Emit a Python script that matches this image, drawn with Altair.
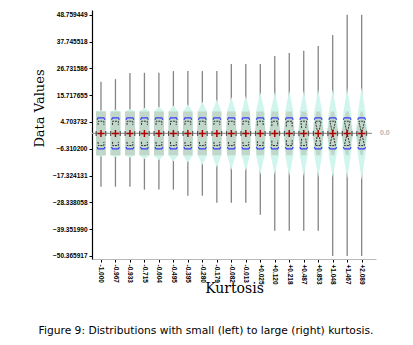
import json
import altair as alt
import pandas as pd

# ---------------- data ----------------
kurt_labels = ["-1.000", "-0.967", "-0.933", "-0.715", "-0.604", "-0.495", "-0.395",
               "-0.280", "-0.179", "-0.082", "-0.013", "+0.025", "+0.120", "+0.218",
               "+0.487", "+0.853", "+1.048", "+1.467", "+2.089"]
whisker_hi = [21.2, 22.3, 24.8, 24.9, 24.9, 25.6, 25.6, 25.6, 25.6, 28.5, 28.5, 28.5,
              31.8, 33.0, 33.9, 35.9, 40.4, 48.759449, 48.759449]
whisker_lo = [-21.9, -21.9, -21.9, -23.1, -23.1, -23.1, -25.6, -25.6, -28.5, -28.5, -28.5,
              -33.4, -40.0, -40.0, -40.0, -40.0, -50.365917, -50.365917, -50.365917]
means = [0.0] * 19
sds = [6.4] * 19
# density (violin) profile: half widths (in px of a 14.5 px slot) and tail extent
w_center = [5.0, 5.0, 5.0, 5.0, 5.0, 5.0, 5.0, 5.0, 5.0, 5.1, 5.1, 5.2, 5.3, 5.4, 5.5, 5.6, 5.7, 5.8, 5.9]
w_shoulder = [5.0, 5.0, 5.0, 5.0, 4.9, 4.8, 4.7, 4.6, 4.5, 4.3, 4.1, 4.3, 4.2, 4.1, 4.0, 3.9, 3.8, 3.7, 3.6]
w_inner = [5.0, 5.0, 5.0, 5.0, 4.9, 4.8, 4.7, 4.6, 4.5, 4.3, 4.1, 3.6, 3.2, 2.8, 2.4, 2.0, 1.6, 1.3, 1.0]
tails = [9.5, 9.7, 10.0, 10.5, 11, 11.5, 12, 13, 14, 15, 15.5, 17, 17, 17.5, 17.5, 18, 18, 18.5, 19]
# kurtosis glyph: how far the ends drop, and how much they pinch inward
k_drop = [1.5] * 11 + [1.8, 2.0, 2.2, 2.8, 3.5, 5.0, 5.0, 5.0]
k_pinch = [0.0] * 11 + [0.0, 0.0, 0.0, 0.3, 0.6, 1.0, 1.0, 1.0]

y_ticks = [48.759449, 37.745518, 26.731586, 15.717655, 4.703732, -6.310200,
           -17.324131, -28.338058, -39.351990, -50.365917]

caption = "Figure 9: Distributions with small (left) to large (right) kurtosis."

# ---------------- build tables ----------------
SLOT = 14.5
n = len(kurt_labels)
idx = list(range(n))

whisk = pd.DataFrame({"idx": idx, "lo": whisker_lo, "hi": whisker_hi, "mean": means})

outer_rows, inner_rows = [], []
for i in idx:
    a = w_shoulder[i] / SLOT
    c = w_center[i] / SLOT
    b = w_inner[i] / SLOT
    t = tails[i]
    for y, h in zip([-t, -9, 0, 9, t], [0, a, c, a, 0]):
        outer_rows.append({"idx": i, "vy": y, "xa": i - h, "xb": i + h})
    for y, h in zip([-9, 0, 9], [b, c, b]):
        inner_rows.append({"idx": i, "vy": y, "xa": i - h, "xb": i + h})
outer = pd.DataFrame(outer_rows)
inner = pd.DataFrame(inner_rows)

GW = 0.2
glyph_rows = []
blue_rows = []
for i in idx:
    for sgn in (1, -1):
        yk = means[i] + sgn * 5.0
        r = k_drop[i]
        f = k_pinch[i]
        pts = [(i - GW + f * GW, yk - sgn * r), (i - GW, yk), (i + GW, yk), (i + GW - f * GW, yk - sgn * r)]
        for o, (px, py) in enumerate(pts):
            glyph_rows.append({"gid": f"{i}_{sgn}", "ord": o, "gx": px, "gy": py})
        yb = means[i] + sgn * sds[i]
        pts = [(i - 0.27, yb - sgn * 0.8), (i - 0.2, yb), (i + 0.2, yb), (i + 0.27, yb - sgn * 0.8)]
        for o, (px, py) in enumerate(pts):
            blue_rows.append({"gid": f"{i}_{sgn}", "ord": o, "gx": px, "gy": py})
glyphs = pd.DataFrame(glyph_rows)
blues = pd.DataFrame(blue_rows)

caps = pd.DataFrame({"cx": [i + s * 0.33 for i in idx for s in (-1, 1)],
                     "cy": [means[i] for i in idx for s in (-1, 1)]})

# ---------------- scales / axes ----------------
xscale = alt.Scale(domain=[-0.62, 18.99], nice=False, zero=False)
yscale = alt.Scale(domain=[-51.6, 50.69], nice=False, zero=False)
TICKFONT = "Liberation Sans"

x_axis = alt.Axis(values=idx, labelExpr=json.dumps(kurt_labels) + "[round(datum.value)]",
                  labelAngle=90, labelFont=TICKFONT, labelFontSize=6.5, labelFontWeight="bold",
                  labelColor="black", labelPadding=2, tickSize=3, tickColor="black",
                  labelOverlap=False, labelFlush=False, labelSeparation=0, labelBound=False,
                  domainColor="#bbbbbb", domainWidth=1.2, grid=False, title="Kurtosis",
                  titleFont="DejaVu Serif", titleFontSize=14,
                  titleFontWeight="normal", titleBaseline="alphabetic", titleY=33, titleColor="black")
y_axis = alt.Axis(values=y_ticks, labelExpr="format(datum.value, '.6f')",
                  labelFont=TICKFONT, labelFontSize=6.5, labelFontWeight="bold", labelColor="black",
                  labelOverlap=False, labelFlush=False, labelSeparation=0, labelBound=False,
                  labelPadding=2, tickSize=3, tickColor="black", domainColor="black",
                  domainWidth=1.2, grid=False, title="Data Values", titleFont="DejaVu Serif",
                  titleFontSize=13, titleFontWeight="normal", titleX=-46, titleY=98,
                  titleColor="black")


def X(field, **kw):
    return alt.X(field, scale=xscale, axis=x_axis, **kw)


def Y(field):
    return alt.Y(field, scale=yscale, axis=y_axis)


whiskers = alt.Chart(whisk).mark_rule(color="#858585", strokeWidth=1.3).encode(
    x=X("idx:Q"), y=Y("lo:Q"), y2="hi:Q")

violin_out = alt.Chart(outer).mark_area(orient="horizontal", color="#d0f5ed").encode(
    y=Y("vy:Q"), x=X("xa:Q"), x2="xb:Q", detail="idx:N")

violin_in = alt.Chart(inner).mark_area(orient="horizontal", color="#c1d7ca").encode(
    y=Y("vy:Q"), x=X("xa:Q"), x2="xb:Q", detail="idx:N")

zero_line = alt.Chart(pd.DataFrame({"v": [0.0]})).mark_rule(color="#9a9a9a", strokeWidth=1.2).encode(
    y=Y("v:Q"), x=alt.value(0), x2=alt.value(280))

zero_text = alt.Chart(pd.DataFrame({"v": [0.0]})).mark_text(
    text="0.0", font=TICKFONT, fontSize=7, fontWeight="bold", color="#b5b5b5", align="left",
    baseline="middle").encode(y=Y("v:Q"), x=alt.value(288))

glyph_layer = alt.Chart(glyphs).mark_line(color="#333333", strokeWidth=1, strokeDash=[2, 1]).encode(
    x=X("gx:Q"), y=Y("gy:Q"), detail="gid:N", order="ord:Q")

blue_layer = alt.Chart(blues).mark_line(color="#3b3bf5", strokeWidth=1.2).encode(
    x=X("gx:Q"), y=Y("gy:Q"), detail="gid:N", order="ord:Q")

cap_layer = alt.Chart(caps).mark_point(shape="M0,-1L0,1", size=25, color="#555555",
                                       strokeWidth=1.2, filled=False, opacity=1).encode(
    x=X("cx:Q"), y=Y("cy:Q"))

cross_layer = alt.Chart(whisk).mark_point(shape="M-1,0L1,0M0,-1L0,1", size=49, color="#b00000",
                                          strokeWidth=1.5, filled=False, opacity=1).encode(
    x=X("idx:Q"), y=Y("mean:Q"))

cap_text = alt.Chart(pd.DataFrame({"t": [caption]})).mark_text(
    font="DejaVu Sans", fontSize=10.7, align="center", baseline="alphabetic", color="black"
).encode(text="t:N", x=alt.value(114), y=alt.value(324))

chart = alt.layer(
    whiskers, violin_out, violin_in, zero_line, zero_text, glyph_layer, blue_layer,
    cap_layer, cross_layer, cap_text
).properties(
    width=284, height=249,
    padding={"left": 92, "top": 10, "right": 37, "bottom": 86},
    autosize=alt.AutoSizeParams(type="none"),
    background="white",
).configure_view(stroke=None)

chart.save("out.html", embed_options={"renderer": "svg", "actions": False})
